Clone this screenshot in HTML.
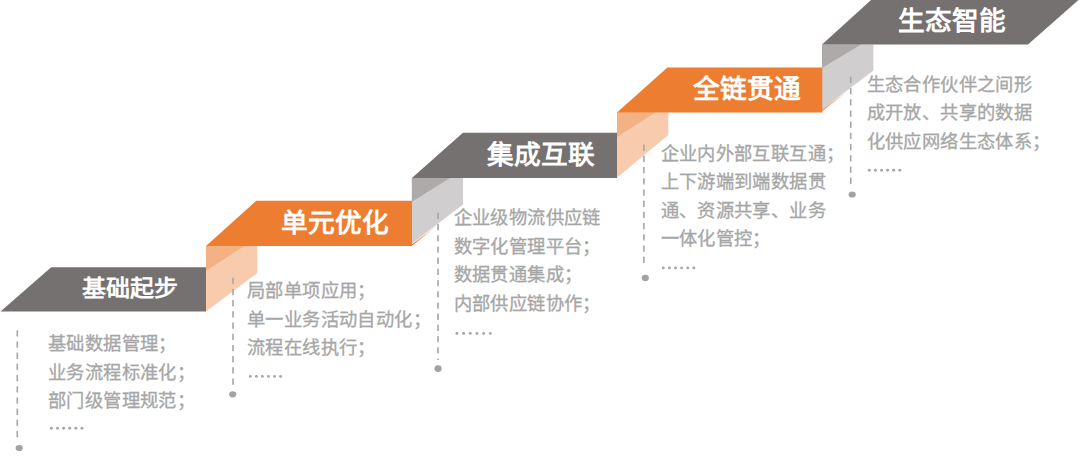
<!DOCTYPE html>
<html lang="zh-CN"><head><meta charset="utf-8">
<style>
html,body{margin:0;padding:0;background:#fff;}
body{width:1080px;height:467px;position:relative;overflow:hidden;font-family:"Liberation Sans",sans-serif;}
svg{position:absolute;left:0;top:0;}
.lab{position:absolute;color:#fff;font-weight:bold;white-space:nowrap;line-height:1;}
.txt{position:absolute;color:#a6a6a6;font-size:18.3px;letter-spacing:0.4px;font-weight:500;-webkit-text-stroke:0.3px #a6a6a6;line-height:28.5px;white-space:nowrap;}
</style></head><body>
<svg width="1080" height="467" viewBox="0 0 1080 467">
  <defs>
    <linearGradient id="sl" gradientUnits="userSpaceOnUse" x1="412" y1="245" x2="436" y2="226.6"><stop offset="0" stop-color="#ed7d31"/><stop offset="1" stop-color="#ed7d31" stop-opacity="0"/></linearGradient>
    <linearGradient id="sl2" gradientUnits="userSpaceOnUse" x1="822" y1="110.6" x2="846" y2="92.2"><stop offset="0" stop-color="#ed7d31"/><stop offset="1" stop-color="#ed7d31" stop-opacity="0"/></linearGradient>
  </defs>
  <!-- risers -->
  <polygon points="206,246 257.3,246 257.3,273 206,311.6" fill="#f8cbad"/>
  <polygon points="206,246 244.5,246 206,270.8" fill="#f4b183"/>
  <line x1="412" y1="245" x2="436" y2="226.6" stroke="url(#sl)" stroke-width="1.3"/>
  <polygon points="411.9,178 463,178 463,204.5 411.9,243.6" fill="#d0cece"/>
  <polygon points="411.9,178 450,178 411.9,201.7" fill="#aeaaaa"/>
  <polygon points="617,112.3 668.3,112.3 668.3,135 617,177.8" fill="#f8cbad"/>
  <polygon points="617,112.3 655.5,112.3 617,137" fill="#f4b183"/>
  <line x1="822" y1="110.6" x2="846" y2="92.2" stroke="url(#sl2)" stroke-width="1.3"/>
  <polygon points="822,44.6 873.4,44.6 873.4,70.5 822,109.6" fill="#d0cece"/>
  <polygon points="822,44.6 861,44.6 822,67.9" fill="#aeaaaa"/>
  <!-- bands -->
  <polygon points="51.2,267.3 206,267.3 206,311.6 0.5,311.6" fill="#767171"/>
  <polygon points="256.2,200.8 412,200.8 412,246.1 206,246.1" fill="#ed7d31"/>
  <polygon points="462.9,132.8 617,132.8 617,177.9 411.9,177.9" fill="#767171"/>
  <polygon points="667.4,67.4 822.3,67.4 822.3,112.4 617,112.4" fill="#ed7d31"/>
  <polygon points="871.6,-0.5 1079,-0.5 1028,44.6 822,44.6" fill="#767171"/>
  <!-- dashed lines -->
  <g stroke="#a6a6a6" stroke-width="1.6" stroke-dasharray="6.3 4.9" fill="none">
    <line x1="17.3" y1="330.2" x2="17.3" y2="437.3"/>
    <line x1="233" y1="277.7" x2="233" y2="384.8"/>
    <line x1="438" y1="212.8" x2="438" y2="360.1"/>
    <line x1="643.9" y1="144.6" x2="643.9" y2="262.9"/>
    <line x1="850.7" y1="76.8" x2="850.7" y2="183.9"/>
  </g>
  <g fill="#a2a2a2">
    <ellipse cx="19.2" cy="448" rx="3.6" ry="3.1"/>
    <ellipse cx="232.7" cy="394.3" rx="3.6" ry="3.1"/>
    <ellipse cx="438.1" cy="368.6" rx="3.6" ry="3.4"/>
    <ellipse cx="645.3" cy="277.9" rx="3.6" ry="3.1"/>
    <ellipse cx="852.2" cy="194.5" rx="3.6" ry="3.1"/>
  </g>
  <!-- ellipsis dots -->
  <g fill="#a6a6a6">
<circle cx="51.4" cy="428.3" r="1.45"/><circle cx="57.5" cy="428.3" r="1.45"/><circle cx="63.6" cy="428.3" r="1.45"/><circle cx="69.7" cy="428.3" r="1.45"/><circle cx="75.8" cy="428.3" r="1.45"/><circle cx="81.9" cy="428.3" r="1.45"/><circle cx="250.3" cy="376.4" r="1.45"/><circle cx="256.4" cy="376.4" r="1.45"/><circle cx="262.4" cy="376.4" r="1.45"/><circle cx="268.5" cy="376.4" r="1.45"/><circle cx="274.5" cy="376.4" r="1.45"/><circle cx="280.6" cy="376.4" r="1.45"/><circle cx="456.9" cy="333.4" r="1.45"/><circle cx="463.6" cy="333.4" r="1.45"/><circle cx="470.3" cy="333.4" r="1.45"/><circle cx="476.9" cy="333.4" r="1.45"/><circle cx="483.6" cy="333.4" r="1.45"/><circle cx="490.3" cy="333.4" r="1.45"/><circle cx="663.3" cy="267.9" r="1.45"/><circle cx="669.4" cy="267.9" r="1.45"/><circle cx="675.5" cy="267.9" r="1.45"/><circle cx="681.6" cy="267.9" r="1.45"/><circle cx="687.7" cy="267.9" r="1.45"/><circle cx="693.8" cy="267.9" r="1.45"/><circle cx="869.3" cy="170.2" r="1.45"/><circle cx="875.4" cy="170.2" r="1.45"/><circle cx="881.5" cy="170.2" r="1.45"/><circle cx="887.6" cy="170.2" r="1.45"/><circle cx="893.7" cy="170.2" r="1.45"/><circle cx="899.8" cy="170.2" r="1.45"/>
  </g>
</svg>
<div class="lab" style="left:82px;top:277px;font-size:24px;transform:scaleY(0.93);transform-origin:50% 45%;">基础起步</div>
<div class="lab" style="left:281px;top:210px;font-size:26.67px;">单元优化</div>
<div class="lab" style="left:487px;top:142px;font-size:26.67px;">集成互联</div>
<div class="lab" style="left:693px;top:76px;font-size:26.67px;">全链贯通</div>
<div class="lab" style="left:898px;top:8px;font-size:26.67px;">生态智能</div>

<div class="txt" style="left:48px;top:330px;">基础数据管理；<br>业务流程标准化；<br>部门级管理规范；</div>
<div class="txt" style="left:247.1px;top:277px;">局部单项应用；<br>单一业务活动自动化；<br>流程在线执行；</div>
<div class="txt" style="left:453.7px;top:204.1px;">企业级物流供应链<br>数字化管理平台；<br>数据贯通集成；<br>内部供应链协作；</div>
<div class="txt" style="left:660.5px;top:139.9px;">企业内外部互联互通；<br>上下游端到端数据贯<br>通、资源共享、业务<br>一体化管控；</div>
<div class="txt" style="left:866.6px;top:70.6px;">生态合作伙伴之间形<br>成开放、共享的数据<br>化供应网络生态体系；</div>
</body></html>
